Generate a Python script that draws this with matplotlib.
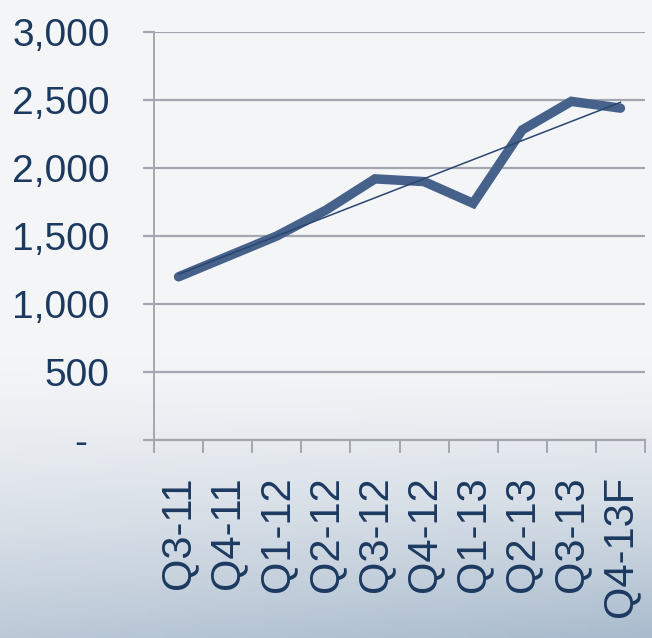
import numpy as np
import matplotlib
matplotlib.use("Agg")
import matplotlib.pyplot as plt
from matplotlib.colors import LinearSegmentedColormap
from matplotlib import font_manager

categories = ["Q3-11", "Q4-11", "Q1-12", "Q2-12", "Q3-12", "Q4-12",
              "Q1-13", "Q2-13", "Q3-13", "Q4-13F"]
values = [1200, 1350, 1500, 1690, 1920, 1900, 1740, 2280, 2490, 2440]
yticks = [0, 500, 1000, 1500, 2000, 2500, 3000]
ytick_labels = ["-  ", "500", "1,000", "1,500", "2,000", "2,500", "3,000"]

plt.rcParams['font.family'] = ['Liberation Sans', 'DejaVu Sans']
names = {f.name for f in font_manager.fontManager.ttflist}
narrow = 'Liberation Sans Narrow' in names

W, H, DPI = 652, 638, 100
fig = plt.figure(figsize=(W / DPI, H / DPI), dpi=DPI)

# background gradient
bg = fig.add_axes([0, 0, 1, 1], zorder=-10)
bg.set_axis_off()
yy = np.linspace(0, 1, 200)[:, None]
xx = np.linspace(0, 1, 200)[None, :]
t = np.clip((yy - 0.55) / 0.45, 0, 1) ** 1.4 * (0.75 + 0.25 * xx)
cmap = LinearSegmentedColormap.from_list("bgc", ["#f4f5f7", "#a9bbcd"])
bg.imshow(t, cmap=cmap, aspect="auto", extent=[0, 1, 0, 1], origin="upper",
          vmin=0, vmax=1)
bg.set_xlim(0, 1)
bg.set_ylim(0, 1)

ax = fig.add_axes([154 / W, 1 - 440 / H, (645 - 154) / W, (440 - 32) / H])
ax.patch.set_alpha(0)

x = np.arange(len(categories))
line_color = "#46628b"
ax.plot(x, values, color=line_color, lw=6.8, solid_joinstyle="miter",
        solid_capstyle="round", zorder=3)
coef = np.polyfit(x, values, 1)
ax.plot(x, np.polyval(coef, x), color="#2a4670", lw=1.1, zorder=4)

ax.set_ylim(0, 3000)
ax.set_xlim(-0.5, len(categories) - 0.5)
ax.set_yticks(yticks)
grid_color = "#a3a7b0"
for v in yticks:
    ax.axhline(v, color=grid_color, lw=1.6, zorder=1)

for s in ["top", "right"]:
    ax.spines[s].set_visible(False)
ax.spines["left"].set_color(grid_color)
ax.spines["left"].set_linewidth(1.4)
ax.spines["bottom"].set_color(grid_color)
ax.spines["bottom"].set_linewidth(1.6)

text_color = "#1c3a60"
if narrow:
    ax.set_yticklabels(ytick_labels, family=['Liberation Sans Narrow', 'DejaVu Sans'],
                       fontsize=32)
    ypad = 25
else:
    ax.set_yticklabels(ytick_labels, fontsize=28)
    ypad = 24
ax.tick_params(axis="y", length=8, width=1.6, color=grid_color,
               labelcolor=text_color, pad=ypad)
ax.set_xticks(x)
ax.set_xticklabels(categories, rotation=90, fontsize=30, color=text_color)
ax.tick_params(axis="x", length=0, pad=26)
ax.set_xticks(np.arange(len(categories) + 1) - 0.5, minor=True)
ax.tick_params(axis="x", which="minor", length=9, width=1.4, color=grid_color)

fig.savefig("out.png", dpi=DPI)
